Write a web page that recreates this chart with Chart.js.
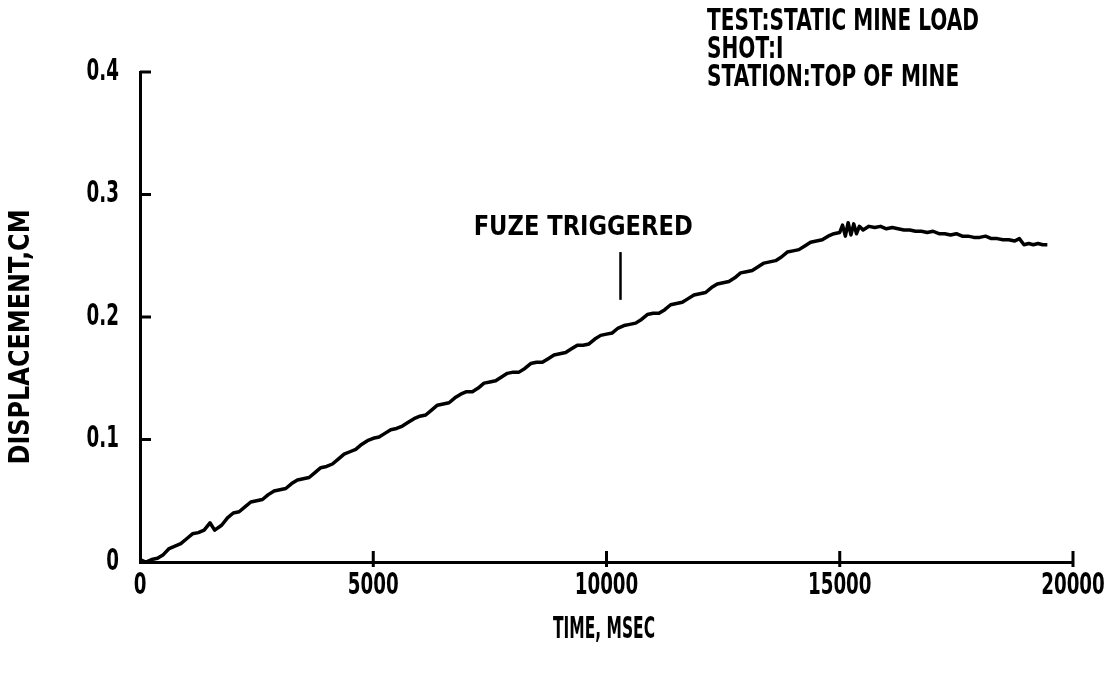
<!DOCTYPE html>
<html>
<head>
<meta charset="utf-8">
<title>Static mine load - displacement</title>
<script src="https://cdn.jsdelivr.net/npm/chart.js@4/dist/chart.umd.min.js"></script>
<style>
  html, body { margin: 0; padding: 0; background: #fff; }
  canvas { display: block; }
</style>
</head>
<body>
<canvas id="disp-chart" width="1120" height="679"></canvas>
<script>
// Time axis (msec) and displacement trace (cm)
const timeMs = [
    0, 125, 250, 375, 500, 625, 750, 875, 1000, 1125,
    1250, 1375, 1500, 1600, 1750, 1875, 2000, 2125, 2250, 2375,
    2500, 2625, 2750, 2875, 3000, 3125, 3250, 3375, 3500, 3625,
    3750, 3875, 4000, 4125, 4250, 4375, 4500, 4625, 4750, 4875,
    5000, 5125, 5250, 5375, 5500, 5625, 5750, 5875, 6000, 6125,
    6250, 6375, 6500, 6625, 6750, 6875, 7000, 7125, 7250, 7375,
    7500, 7625, 7750, 7875, 8000, 8125, 8250, 8375, 8500, 8625,
    8750, 8875, 9000, 9125, 9250, 9375, 9500, 9625, 9750, 9875,
    10000, 10125, 10250, 10375, 10500, 10625, 10750, 10875, 11000, 11125,
    11250, 11375, 11500, 11625, 11750, 11875, 12000, 12125, 12250, 12375,
    12500, 12625, 12750, 12875, 13000, 13125, 13250, 13375, 13500, 13625,
    13750, 13875, 14000, 14125, 14250, 14375, 14500, 14625, 14750, 14875,
    15000, 15060, 15120, 15180, 15240, 15300, 15360, 15420, 15500, 15625,
    15750, 15875, 16000, 16125, 16250, 16375, 16500, 16625, 16750, 16875,
    17000, 17125, 17250, 17375, 17500, 17625, 17750, 17875, 18000, 18125,
    18250, 18375, 18500, 18625, 18750, 18850, 18950, 19050, 19150, 19250,
    19350, 19450
];
const dispCm = [
    0.002, 0.000, 0.002, 0.003, 0.006, 0.011, 0.013, 0.015, 0.019, 0.023,
    0.024, 0.026, 0.032, 0.026, 0.030, 0.036, 0.040, 0.041, 0.045, 0.049,
    0.050, 0.051, 0.055, 0.058, 0.059, 0.060, 0.064, 0.067, 0.068, 0.069,
    0.073, 0.077, 0.078, 0.080, 0.084, 0.088, 0.090, 0.092, 0.096, 0.099,
    0.101, 0.102, 0.105, 0.108, 0.109, 0.111, 0.114, 0.117, 0.119, 0.120,
    0.124, 0.128, 0.129, 0.130, 0.134, 0.137, 0.139, 0.139, 0.142, 0.146,
    0.147, 0.148, 0.151, 0.154, 0.155, 0.155, 0.158, 0.162, 0.163, 0.163,
    0.166, 0.169, 0.170, 0.171, 0.174, 0.177, 0.177, 0.178, 0.182, 0.185,
    0.186, 0.187, 0.191, 0.193, 0.194, 0.195, 0.198, 0.202, 0.203, 0.203,
    0.206, 0.210, 0.211, 0.212, 0.215, 0.218, 0.219, 0.220, 0.224, 0.227,
    0.228, 0.229, 0.232, 0.236, 0.237, 0.238, 0.241, 0.244, 0.245, 0.246,
    0.249, 0.253, 0.254, 0.255, 0.258, 0.261, 0.262, 0.263, 0.266, 0.268,
    0.269, 0.275, 0.266, 0.277, 0.267, 0.276, 0.268, 0.274, 0.271, 0.274,
    0.273, 0.274, 0.272, 0.273, 0.272, 0.271, 0.271, 0.270, 0.270, 0.269,
    0.270, 0.268, 0.268, 0.267, 0.268, 0.266, 0.266, 0.265, 0.265, 0.266,
    0.264, 0.264, 0.263, 0.263, 0.262, 0.264, 0.259, 0.260, 0.259, 0.260,
    0.259, 0.259
];

// Tick values on both axes
const xTicks = [0, 5000, 10000, 15000, 20000];
const yTicks = [0, 0.1, 0.2, 0.3, 0.4];

// Annotation texts
const infoLines = ["TEST:STATIC MINE LOAD", "SHOT:I", "STATION:TOP OF MINE"];
const fuzeLabel = "FUZE TRIGGERED";
const fuzeTime = 10300;
const fuzeMark = [0.253, 0.214]; // top / bottom of the marker line (cm)
const fuzeLabelAt = [9500, 0.273];
const xTitle = "TIME, MSEC";
const yTitle = "DISPLACEMENT,CM";

const FONT = "'DejaVu Sans', sans-serif";

const points = timeMs.map((t, i) => ({ x: t, y: dispCm[i] }));

// narrow plotter-style lettering: squeeze the text horizontally
function plotText(ctx, text, x, y, size, opts) {
    opts = opts || {};
    ctx.save();
    ctx.font = "bold " + size + "px " + FONT;
    ctx.textBaseline = "middle";
    ctx.textAlign = opts.align || "center";
    let sx = opts.sx || 1;
    if (opts.width) sx = opts.width / ctx.measureText(text).width;
    ctx.translate(x, y);
    if (opts.rotate) ctx.rotate(opts.rotate);
    ctx.scale(sx, 1);
    ctx.fillText(text, 0, 0);
    ctx.restore();
}

const plotNotes = {
    id: "plotNotes",
    afterDraw(chart) {
        const ctx = chart.ctx;
        const xs = chart.scales.x;
        const ys = chart.scales.y;
        const area = chart.chartArea;

        ctx.save();
        ctx.strokeStyle = "#000";
        ctx.fillStyle = "#000";
        ctx.lineWidth = 3;

        // x ticks cross the axis, mostly above it
        xTicks.forEach((v) => {
            const px = xs.getPixelForValue(v);
            if (v > 0) {
                ctx.beginPath();
                ctx.moveTo(px, area.bottom - 11);
                ctx.lineTo(px, area.bottom + 5);
                ctx.stroke();
            }
            plotText(ctx, String(v), px, 586, 30, { sx: 0.61 });
        });
        // y ticks point right, into the plot
        yTicks.forEach((v) => {
            const py = ys.getPixelForValue(v);
            if (v > 0) {
                ctx.beginPath();
                ctx.moveTo(area.left, py);
                ctx.lineTo(area.left + 11, py);
                ctx.stroke();
            }
            plotText(ctx, v === 0 ? "0" : v.toFixed(1), area.left - 21, py, 30, { sx: 0.61, align: "right" });
        });

        // axis titles
        plotText(ctx, xTitle, 604, 630, 30, { width: 102 });
        plotText(ctx, yTitle, 22, 337, 28, { width: 255, rotate: -Math.PI / 2 });

        // fuze marker
        const fx = xs.getPixelForValue(fuzeTime);
        ctx.lineWidth = 2.5;
        ctx.beginPath();
        ctx.moveTo(fx, ys.getPixelForValue(fuzeMark[0]));
        ctx.lineTo(fx, ys.getPixelForValue(fuzeMark[1]));
        ctx.stroke();
        plotText(ctx, fuzeLabel, xs.getPixelForValue(fuzeLabelAt[0]), ys.getPixelForValue(fuzeLabelAt[1]), 27, { width: 219 });

        // test info block, upper right
        infoLines.forEach((line, i) => {
            plotText(ctx, line, 707, 22 + i * 28, 30, { sx: 0.67, align: "left" });
        });
        ctx.restore();
    }
};

const ctx = document.getElementById("disp-chart").getContext("2d");
const dispChart = new Chart(ctx, {
    type: "line",
    data: {
        datasets: [
            {
                label: "Displacement",
                data: points,
                borderColor: "#000",
                borderWidth: 3.5,
                borderJoinStyle: "round",
                pointRadius: 0,
                tension: 0,
                fill: false,
            },
        ],
    },
    options: {
        responsive: false,
        animation: false,
        layout: { padding: { left: 0, right: 47, top: 72, bottom: 0 } },
        plugins: {
            legend: { display: false },
            tooltip: { enabled: false },
        },
        scales: {
            x: {
                type: "linear",
                min: xTicks[0],
                max: xTicks[xTicks.length - 1],
                afterFit: (scale) => { scale.height = 117; },
                grid: { display: false, drawTicks: false },
                border: { display: true, color: "#000", width: 3 },
                ticks: { stepSize: 5000, display: false },
            },
            y: {
                min: yTicks[0],
                max: yTicks[yTicks.length - 1],
                afterFit: (scale) => { scale.width = 140; },
                grid: { display: false, drawTicks: false },
                border: { display: true, color: "#000", width: 3 },
                ticks: { stepSize: 0.1, display: false },
            },
        },
    },
    plugins: [plotNotes],
});
</script>
</body>
</html>
